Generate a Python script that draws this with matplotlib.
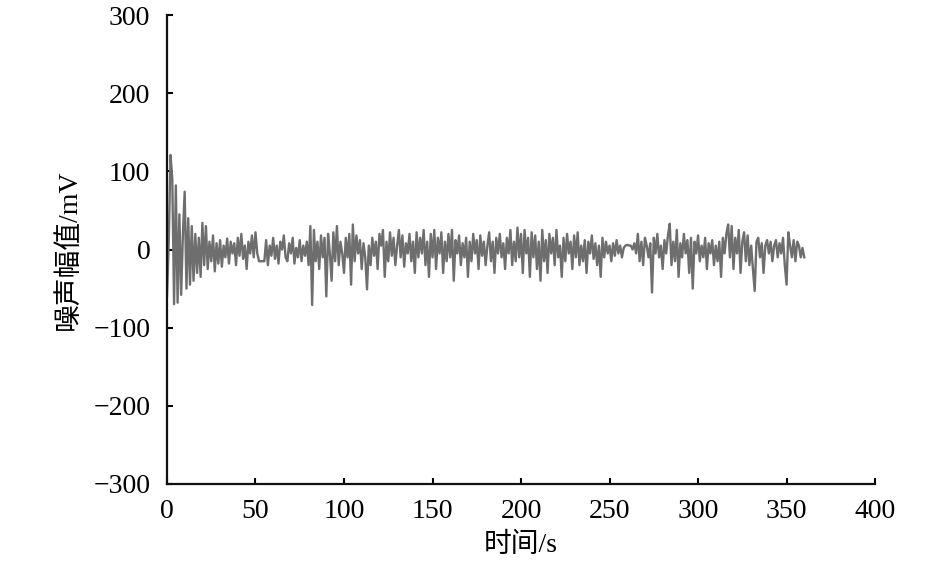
import numpy as np
import matplotlib
matplotlib.use("Agg")
import matplotlib.pyplot as plt

# noise amplitude (mV), one reading per second, t = 0..360 s
noise_mv = [
    -60, 10, 121, 90, -70, 82, -68, 45, -58, 20,
    74, -50, 40, -45, 30, -40, 20, -30, 15, -35,
    34, -20, 30, -25, 10, -15, 18, -28, 8, -18,
    12, -22, 5, -10, 14, -18, 10, -5, 8, -20,
    15, -8, 20, -12, 5, -25, 10, -5, 18, -10,
    22, -5, -15, -15, -15, -15, 12, -20, 5, -8,
    15, -12, 5, -18, 10, 0, 18, -10, -15, 8,
    -5, 15, -18, 2, -10, 12, -15, 5, -8, 10,
    -20, 30, -71, 25, -15, 10, -25, 18, -10, 15,
    -60, 20, -5, -40, 22, -15, 30, -20, 10, -5,
    -30, 15, -10, 20, -45, 32, -15, 18, -5, 12,
    -25, 8, -10, -51, 5, -20, 15, -8, 10, -25,
    20, 5, 25, -35, 10, -15, 22, -8, 15, -20,
    5, 25, -10, 18, -22, 8, -5, 20, -15, 10,
    -30, 22, -10, 15, -5, 25, -20, 10, -35, 20,
    -10, 25, -25, 15, -5, 22, -30, 10, -15, 20,
    -10, 25, -40, 12, -5, 18, -20, 8, -10, 15,
    -35, 10, -15, 20, -5, 12, -25, 18, -8, 10,
    -20, 5, 22, -15, 10, -30, 15, -5, 20, -10,
    8, -25, 15, -5, 25, -20, 10, -15, 28, -10,
    20, -30, 25, -5, 15, -35, 22, -10, 18, -25,
    10, -40, 25, -15, 12, -30, 20, -5, 15, -20,
    25, -10, 5, -35, 15, -15, 20, -5, 10, -25,
    18, -10, 22, -20, 5, -15, 12, -30, 10, -5,
    18, -12, 8, -20, 5, -35, 15, -10, 10, -5,
    5, -15, 8, -8, 12, -5, 5, -10, 2, 5,
    6, 5, 5, 0, 8, -5, 20, -15, 10, -20,
    15, 5, -10, 8, -55, 15, -5, 20, -10, 5,
    -25, 12, -5, 18, 33, -20, 10, -15, 25, -35,
    8, -10, 20, -5, 12, -30, 15, -50, 10, -5,
    18, -15, 5, -10, 15, -25, 8, -5, 12, -20,
    5, -15, 10, -35, 15, -5, 20, 32, -10, 30,
    -25, 15, -5, 25, -30, 10, 22, -15, 18, -20,
    5, -25, -53, 10, 15, -10, 8, -30, 5, 12,
    -5, 10, -15, 5, 12, -10, 8, -5, 15, -20,
    -45, 22, 5, -10, 12, -15, 10, 5, -10, 2,
    -10,
]
time_s = np.arange(len(noise_mv))

x_ticks = [0, 50, 100, 150, 200, 250, 300, 350, 400]
y_ticks = [-300, -200, -100, 0, 100, 200, 300]

serif = ["Liberation Serif", "Noto Sans CJK SC"]
plt.rcParams["font.family"] = serif

fig = plt.figure(figsize=(9.45, 5.67), dpi=100)
ax = fig.add_axes([0.1767, 0.1464, 0.7493, 0.8271])

ax.plot(time_s, noise_mv, color="#6e6e6e", lw=1.7)

ax.set_xlim(0, 400)
ax.set_ylim(-300, 300)
ax.set_xticks(x_ticks)
ax.set_yticks(y_ticks)
ax.tick_params(direction="in", length=4, width=1.5, labelsize=20)
ax.tick_params(axis="y", pad=12)
ax.tick_params(axis="x", pad=11)

for side in ("top", "right"):
    ax.spines[side].set_visible(False)
for side in ("left", "bottom"):
    ax.spines[side].set_linewidth(1.6)
    ax.spines[side].set_color("#111111")

ax.set_xlabel("时间/s", fontsize=20, labelpad=6)
ax.set_ylabel("噪声幅值/mV", fontsize=20, labelpad=8)

fig.savefig("out.png", dpi=100)
